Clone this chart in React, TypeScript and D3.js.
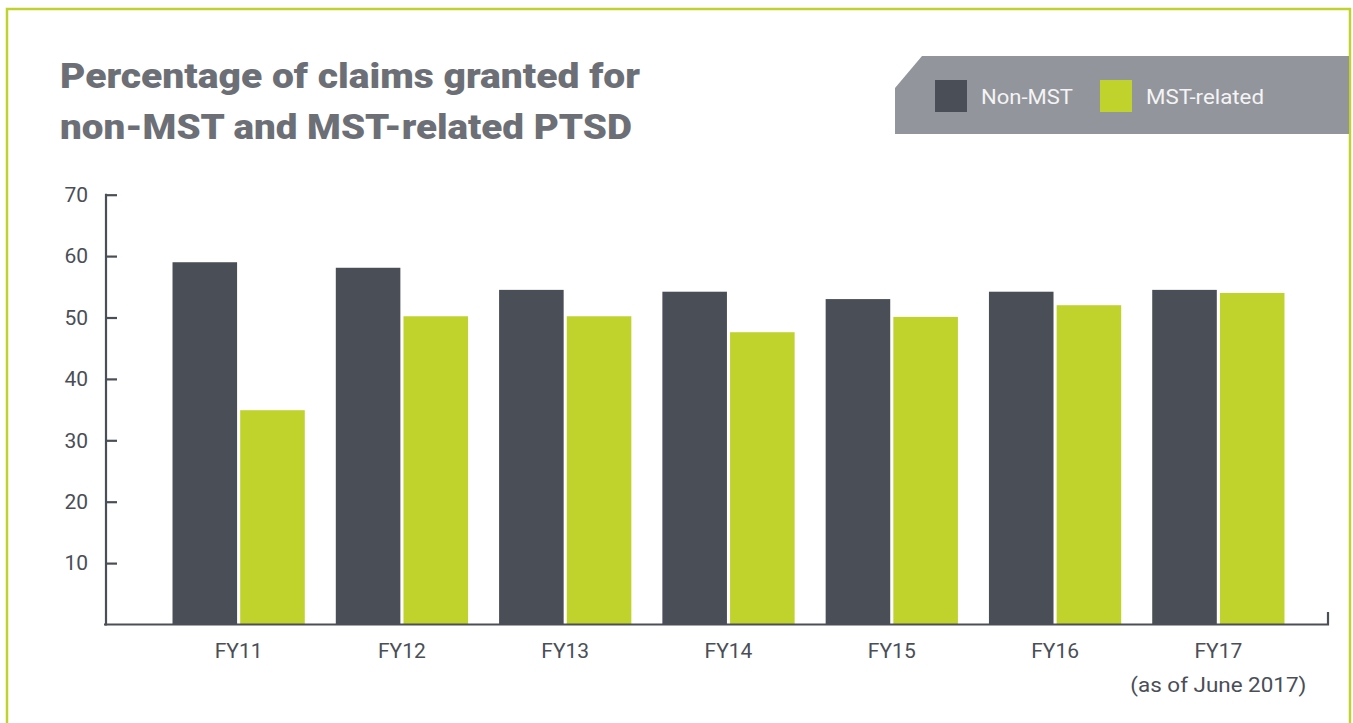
import React, { useEffect, useRef } from "react";
import * as d3 from "d3";

const categories = ["FY11", "FY12", "FY13", "FY14", "FY15", "FY16", "FY17"];
const subLabels = ["", "", "", "", "", "", "(as of June 2017)"];
const nonMST = [59.0, 58.1, 54.5, 54.2, 53.0, 54.2, 54.5];
const mstRelated = [34.9, 50.2, 50.2, 47.6, 50.1, 52.0, 54.0];
const seriesNames = ["Non-MST", "MST-related"];
const yTicks = [10, 20, 30, 40, 50, 60, 70];

const DARK = "#4a4e57";
const GREEN = "#c0d22c";
const GREY = "#93959c";
const FONT = "Roboto, 'Open Sans', sans-serif";

export default function App() {
  const ref = useRef<SVGSVGElement | null>(null);

  useEffect(() => {
    const svg = d3.select(ref.current);
    svg.selectAll("*").remove();

    const H = 723;
    const baseY = 624.5;
    const axisX = 106;

    // frame
    svg.append("path")
      .attr("d", `M7,${H + 5} L7,9 L1350,9 L1350,${H + 5}`)
      .attr("fill", "none").attr("stroke", GREEN).attr("stroke-width", 2.5);

    // title
    const title = svg.append("text").attr("font-family", FONT).attr("font-weight", 900)
      .attr("font-size", 35).attr("fill", "#6c6f76");
    title.append("tspan").attr("x", 60).attr("y", 88)
      .attr("textLength", 580).attr("lengthAdjust", "spacingAndGlyphs")
      .text("Percentage of claims granted for");
    title.append("tspan").attr("x", 60).attr("y", 139)
      .attr("textLength", 572).attr("lengthAdjust", "spacingAndGlyphs")
      .text("non-MST and MST-related PTSD");

    // legend
    svg.append("path")
      .attr("d", "M922,56 L1349,56 L1349,134 L895,134 L895,88 Z")
      .attr("fill", GREY);
    const legendX = [935, 1100];
    const legendW = [92, 118];
    [DARK, GREEN].forEach((c, i) => {
      svg.append("rect").attr("x", legendX[i]).attr("y", 80).attr("width", 32).attr("height", 32).attr("fill", c);
      svg.append("text").attr("x", legendX[i] + 46).attr("y", 104)
        .attr("font-family", FONT).attr("font-size", 21).attr("fill", "#f4f4f4")
        .attr("textLength", legendW[i]).attr("lengthAdjust", "spacingAndGlyphs")
        .text(seriesNames[i]);
    });

    // scales
    const y = d3.scaleLinear().domain([0, 70]).range([baseY, baseY - 7 * 61.4]);
    const x0 = d3.scaleBand().domain(categories).range([157, 1300]).paddingInner(0.19).paddingOuter(0.095);
    const x1 = d3.scaleBand().domain(seriesNames).range([0, x0.bandwidth()]).paddingInner(0.046);

    // bars
    const g = svg.append("g");
    categories.forEach((cat, i) => {
      const vals = [nonMST[i], mstRelated[i]];
      vals.forEach((v, j) => {
        g.append("rect")
          .attr("x", (x0(cat) as number) + (x1(seriesNames[j]) as number))
          .attr("y", y(v))
          .attr("width", x1.bandwidth())
          .attr("height", baseY - y(v))
          .attr("fill", j === 0 ? DARK : GREEN);
      });
    });

    // y axis
    const yAxis = d3.axisLeft(y).tickValues(yTicks).tickSizeInner(-11).tickSizeOuter(0).tickPadding(18)
      .tickFormat((d) => String(d));
    const ya = svg.append("g").attr("transform", `translate(${axisX},0)`).call(yAxis);
    ya.select(".domain").remove();
    ya.selectAll(".tick line").attr("stroke", DARK).attr("stroke-width", 2.2);
    ya.selectAll(".tick text").attr("font-family", FONT).attr("font-size", 21).attr("fill", DARK);
    svg.append("line").attr("x1", axisX).attr("x2", axisX).attr("y1", y(70) - 1).attr("y2", baseY + 1)
      .attr("stroke", DARK).attr("stroke-width", 2.2);

    // x axis baseline
    svg.append("path")
      .attr("d", `M104,${baseY} L1328,${baseY} L1328,612`)
      .attr("fill", "none").attr("stroke", DARK).attr("stroke-width", 2.2);

    // x labels
    categories.forEach((cat, i) => {
      const cx = (x0(cat) as number) + x0.bandwidth() / 2;
      svg.append("text").attr("x", cx).attr("y", 658).attr("text-anchor", "middle")
        .attr("font-family", FONT).attr("font-size", 21).attr("fill", DARK).text(cat);
      if (subLabels[i]) {
        svg.append("text").attr("x", cx).attr("y", 692).attr("text-anchor", "middle")
          .attr("font-family", FONT).attr("font-size", 21).attr("fill", DARK)
          .attr("textLength", 176).attr("lengthAdjust", "spacingAndGlyphs").text(subLabels[i]);
      }
    });
  }, []);

  return (
    <svg ref={ref} width={1353} height={723}
      style={{ position: "absolute", left: 0, top: 0, display: "block", background: "#fff" }} />
  );
}
